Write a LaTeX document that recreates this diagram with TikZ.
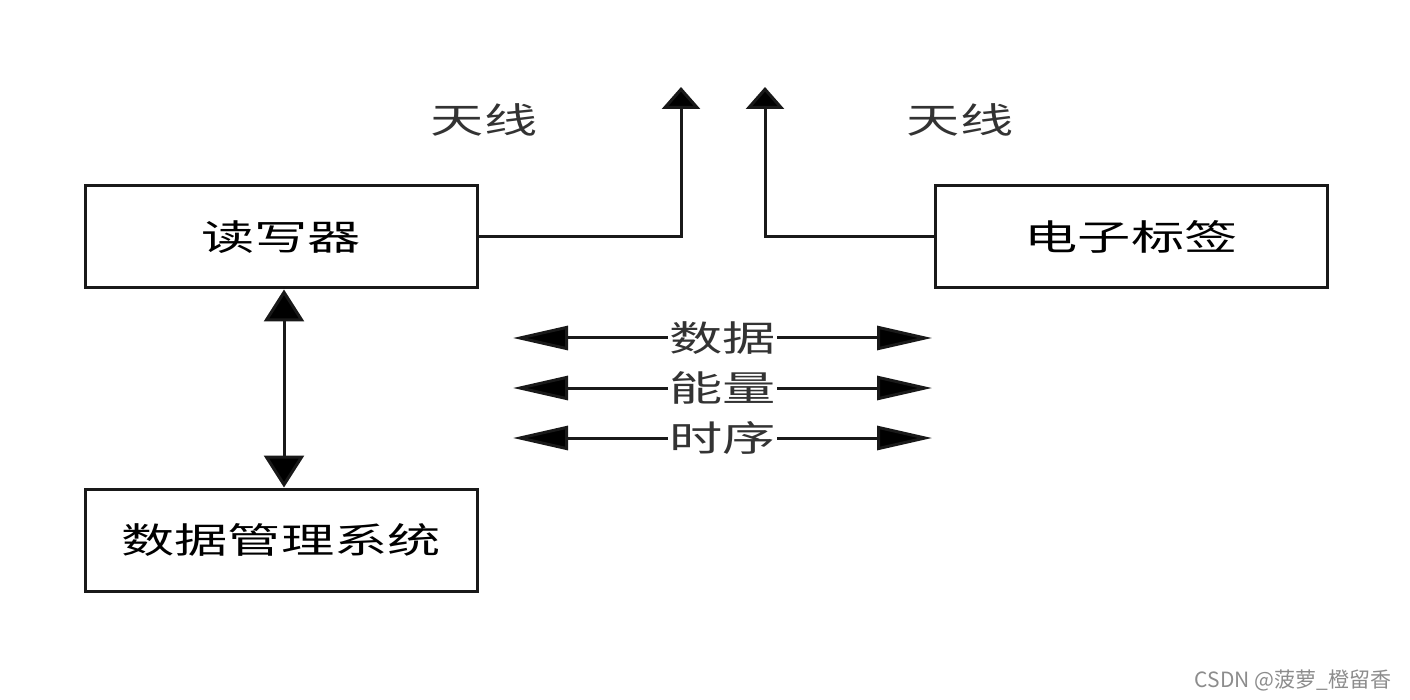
\documentclass[tikz,border=0pt]{standalone}
\usepackage{fontspec}
\setmainfont{Noto Sans CJK SC}[FakeStretch=1.5]
\newfontfamily\wmfont{Noto Sans CJK SC}
\usetikzlibrary{arrows.meta}
\tikzset{
  blk/.style={draw=black!90, line width=3pt, minimum width=392pt, minimum height=102pt, inner sep=0pt, font=\fontsize{35.5}{40}\selectfont},
  lbl/.style={font=\fontsize{35.5}{40}\selectfont, inner sep=0pt, text=black!80},
  conn/.style={draw=black!90, line width=3pt},
  vtip/.style={-{Triangle[length=22pt,width=38pt,fill=black]}},
  dtip/.style={{Triangle[length=32pt,width=40pt,fill=black]}-{Triangle[length=32pt,width=40pt,fill=black]}},
  htip/.style={{Triangle[length=55pt,width=24pt,fill=black]}-{Triangle[length=55pt,width=24pt,fill=black]}},
  midlbl/.style={lbl, fill=white, inner xsep=1pt}
}
\begin{document}
\begin{tikzpicture}[x=1pt,y=-1pt]
\useasboundingbox (0,0) rectangle (1410,700);
\node[blk] (reader) at (281,237) {读写器};
\node[blk] (dms) at (281,540) {数据管理系统};
\node[blk] (tag) at (1131,237) {电子标签};
\node[lbl] (antLlbl) at (484,120) {天线};
\node[lbl] (antRlbl) at (960,120) {天线};
\coordinate (antL) at (681,87);
\coordinate (antR) at (765,87);
\draw[conn,vtip] (reader.east) -| (antL);
\draw[conn,vtip] (tag.west) -| (antR);
\draw[conn,dtip] ([xshift=3pt]reader.south) -- ([xshift=3pt]dms.north);
\coordinate (d1) at (513,338); \coordinate (d2) at (932,338);
\coordinate (e1) at (513,388); \coordinate (e2) at (932,388);
\coordinate (t1) at (513,438); \coordinate (t2) at (932,438);
\draw[conn,htip] (d1) -- node[midlbl] (lblData) {数据} (d2);
\draw[conn,htip] (e1) -- node[midlbl] (lblEnergy) {能量} (e2);
\draw[conn,htip] (t1) -- node[midlbl] (lblTime) {时序} (t2);
\node[font=\wmfont\fontsize{21}{24}\selectfont, text=black!45, inner sep=0pt] (wm) at (1293,680) {CSDN @菠萝\_橙留香};
\end{tikzpicture}
\end{document}
